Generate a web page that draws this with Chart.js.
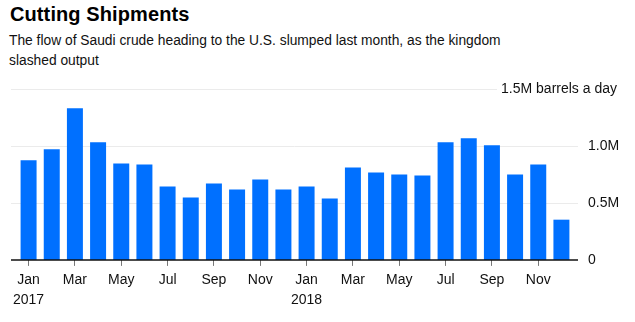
<!DOCTYPE html>
<html>
<head>
<meta charset="utf-8">
<script src="https://cdn.jsdelivr.net/npm/chart.js@4"></script>
<style>
  html, body { margin: 0; padding: 0; background: #fff; }
  body { width: 635px; height: 322px; position: relative; overflow: hidden; font-family: "Liberation Sans", Arial, sans-serif; color: #000; }
  #title { position: absolute; left: 10px; top: 3px; font-size: 20px; font-weight: bold; letter-spacing: 0.1px; }
  #subtitle { position: absolute; left: 9px; top: 31px; width: 520px; font-size: 13.8px; line-height: 20px; color: #111; }
  #wrap { position: absolute; left: 0; top: 0; width: 635px; height: 322px; }
</style>
</head>
<body>
<div id="title">Cutting Shipments</div>
<div id="subtitle">The flow of Saudi crude heading to the U.S. slumped last month, as the kingdom<br>slashed output</div>
<div id="wrap"><canvas id="bars"></canvas></div>
<script>
// monthly imports, million barrels a day (Jan 2017 - Dec 2018)
const months = ["Jan", "Feb", "Mar", "Apr", "May", "Jun", "Jul", "Aug", "Sep", "Oct", "Nov", "Dec",
                "Jan", "Feb", "Mar", "Apr", "May", "Jun", "Jul", "Aug", "Sep", "Oct", "Nov", "Dec"];
const years = ["2017", "", "", "", "", "", "", "", "", "", "", "",
               "2018", "", "", "", "", "", "", "", "", "", "", ""];
const shipments = [0.874, 0.971, 1.332, 1.032, 0.847, 0.838, 0.644, 0.547, 0.671, 0.618, 0.706, 0.618,
                   0.644, 0.538, 0.812, 0.768, 0.750, 0.741, 1.032, 1.068, 1.006, 0.750, 0.838, 0.353];
const yTicks = [0, 0.5, 1.0, 1.5];
const yTickLabels = ["0", "0.5M", "1.0M", "1.5M barrels a day"];

const FONT = "Liberation Sans";

// every other month gets a label
const labels = [];
for (let i = 0; i < months.length; i++)
{
    if (i % 2 === 0)
    {
        labels.push(years[i] ? [months[i], years[i]] : [months[i]]);
    }
    else
    {
        labels.push("");
    }
}

// gridlines, baseline and right-hand labels
const axisPlugin = {
    id: 'axisPlugin',
    beforeDatasetsDraw(chart) {
        const ctx = chart.ctx;
        const y = chart.scales.y;
        ctx.save();
        for (let i = 1; i < yTicks.length; i++)
        {
            const py = Math.round(y.getPixelForValue(yTicks[i])) + 0.5;
            const right = i === yTicks.length - 1 ? 497 : 578;
            ctx.strokeStyle = '#ebebeb';
            ctx.lineWidth = 1;
            ctx.beginPath();
            ctx.moveTo(11, py);
            ctx.lineTo(right, py);
            ctx.stroke();
        }
        ctx.restore();
    },
    afterDatasetsDraw(chart) {
        const ctx = chart.ctx;
        const y = chart.scales.y;
        ctx.save();
        const py0 = y.getPixelForValue(0);
        ctx.strokeStyle = '#111';
        ctx.lineWidth = 1.5;
        ctx.beginPath();
        ctx.moveTo(11, py0);
        ctx.lineTo(578, py0);
        ctx.stroke();

        ctx.fillStyle = '#111';
        ctx.font = '14px "' + FONT + '"';
        ctx.textBaseline = 'middle';
        for (let i = 0; i < yTicks.length; i++)
        {
            const py = y.getPixelForValue(yTicks[i]);
            if (i === yTicks.length - 1)
            {
                ctx.textAlign = 'right';
                ctx.fillText(yTickLabels[i], 617, py);
            }
            else
            {
                ctx.textAlign = 'left';
                ctx.fillText(yTickLabels[i], 588, py);
            }
        }
        ctx.restore();
    }
};

const ctx = document.getElementById('bars').getContext('2d');
new Chart(ctx, {
    type: 'bar',
    data: {
        labels: labels,
        datasets: [{
            data: shipments,
            backgroundColor: '#0070ff',
            barPercentage: 0.69,
            categoryPercentage: 1.0
        }]
    },
    options: {
        responsive: true,
        maintainAspectRatio: false,
        animation: false,
        layout: { padding: { top: 89, left: 17, right: 62, bottom: 7.5 } },
        plugins: {
            legend: { display: false },
            tooltip: { enabled: false }
        },
        scales: {
            x: {
                offset: true,
                border: { display: false },
                grid: {
                    drawOnChartArea: false,
                    drawTicks: true,
                    tickLength: 6,
                    offset: false,
                    color: (c) => (c.index % 2 === 0 ? '#777' : 'rgba(0,0,0,0)'),
                    lineWidth: 1
                },
                ticks: {
                    autoSkip: false,
                    maxRotation: 0,
                    padding: 4,
                    color: '#111',
                    font: { family: FONT, size: 14, lineHeight: 1.45 }
                }
            },
            y: {
                display: false,
                min: 0,
                max: 1.5
            }
        }
    },
    plugins: [axisPlugin]
});
</script>
</body>
</html>
